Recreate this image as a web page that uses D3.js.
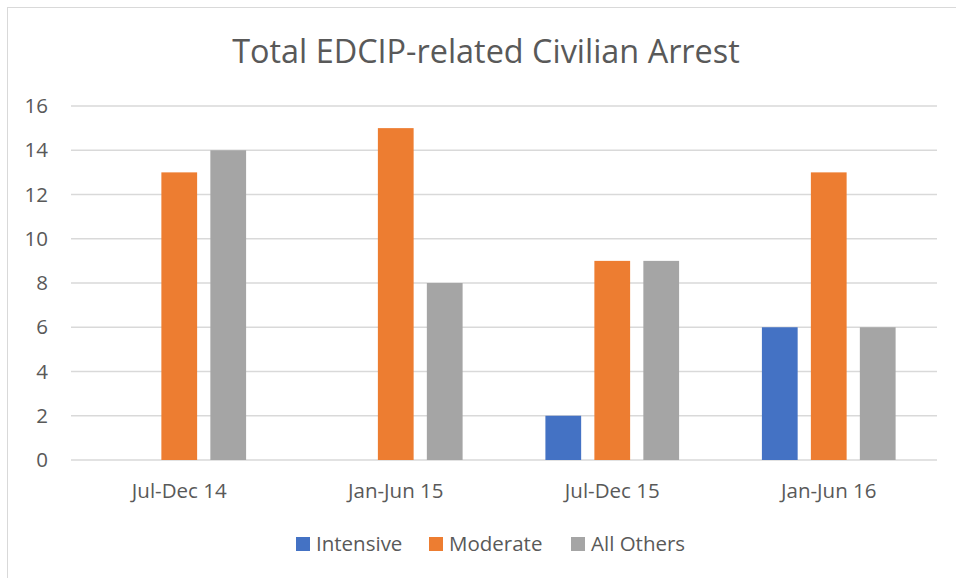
<!DOCTYPE html>
<html>
<head>
<meta charset="utf-8">
<script src="https://cdn.jsdelivr.net/npm/d3@7"></script>
<style>
  body { margin: 0; background: #fff; }
  text { font-family: "Open Sans", sans-serif; fill: #595959; }
</style>
</head>
<body>
<svg></svg>
<script>
let width = 956;
let height = 578;

// data
var categories = ["Jul-Dec 14", "Jan-Jun 15", "Jul-Dec 15", "Jan-Jun 16"];
var seriesNames = ["Intensive", "Moderate", "All Others"];
var intensive = [0, 0, 2, 6];
var moderate = [13, 15, 9, 13];
var allOthers = [14, 8, 9, 6];
var yTicks = [0, 2, 4, 6, 8, 10, 12, 14, 16];
var colors = ["#4472C4", "#ED7D31", "#A5A5A5"];

var seriesValues = [intensive, moderate, allOthers];

var svg = d3.select("svg").attr("width", width).attr("height", height);

// chart frame
svg.append("rect")
  .attr("x", 7.5).attr("y", 7.5)
  .attr("width", 960).attr("height", 600)
  .attr("fill", "none")
  .attr("stroke", "#d9d9d9");

var margin = {left: 71, right: 19, top: 106, bottom: 118};

var x0 = d3.scaleBand()
  .domain(categories)
  .range([margin.left, width - margin.right])
  .paddingInner(0)
  .paddingOuter(0);

// bars inside each category
var x1 = d3.scaleBand()
  .domain(seriesNames)
  .range([41.4, x0.bandwidth() - 41.4])
  .paddingInner(0.27)
  .paddingOuter(0);

var y = d3.scaleLinear()
  .domain([0, 16])
  .range([height - margin.bottom, margin.top]);

// title
svg.append("text")
  .attr("x", 486)
  .attr("y", 63)
  .attr("text-anchor", "middle")
  .style("font-size", "32.4px")
  .text("Total EDCIP-related Civilian Arrest");

// gridlines
svg.append("g")
  .selectAll("line")
  .data(yTicks)
  .enter().append("line")
  .attr("x1", margin.left)
  .attr("x2", width - margin.right)
  .attr("y1", function(d) { return y(d); })
  .attr("y2", function(d) { return y(d); })
  .attr("stroke", "#d9d9d9")
  .attr("stroke-width", 1.3);

// y axis labels
var yAxis = d3.axisLeft(y).tickValues(yTicks).tickSize(0).tickPadding(23);
var yg = svg.append("g")
  .attr("transform", `translate(${margin.left},0)`)
  .call(yAxis);
yg.select(".domain").remove();
yg.selectAll("text")
  .style("font-size", "20.5px")
  .style("font-family", "'Open Sans', sans-serif")
  .attr("fill", "#595959");

// bars
var groups = svg.append("g")
  .selectAll("g")
  .data(categories)
  .enter().append("g")
  .attr("transform", function(d) { return `translate(${x0(d)},0)`; });

groups.selectAll("rect")
  .data(function(d, i) {
    return seriesNames.map(function(s, j) {
      return {name: s, value: seriesValues[j][i], color: colors[j]};
    });
  })
  .enter().append("rect")
  .filter(function(d) { return d.value > 0; })
  .attr("x", function(d) { return x1(d.name); })
  .attr("width", x1.bandwidth())
  .attr("y", function(d) { return y(d.value); })
  .attr("height", function(d) { return y(0) - y(d.value); })
  .attr("fill", function(d) { return d.color; });

// x axis labels
var xAxis = d3.axisBottom(x0).tickSize(0).tickPadding(23);
var xg = svg.append("g")
  .attr("transform", `translate(0,${y(0)})`)
  .call(xAxis);
xg.select(".domain").remove();
xg.selectAll("text")
  .style("font-size", "20.5px")
  .style("font-family", "'Open Sans', sans-serif")
  .attr("fill", "#595959");

// legend
var legendX = [296, 429, 571];
var legend = svg.append("g")
  .selectAll("g")
  .data(seriesNames)
  .enter().append("g")
  .attr("transform", function(d, i) { return `translate(${legendX[i]},537)`; });

legend.append("rect")
  .attr("width", 14)
  .attr("height", 14)
  .attr("fill", function(d, i) { return colors[i]; });

legend.append("text")
  .attr("x", 20)
  .attr("y", 14)
  .style("font-size", "20.5px")
  .text(function(d) { return d; });
</script>
</body>
</html>
